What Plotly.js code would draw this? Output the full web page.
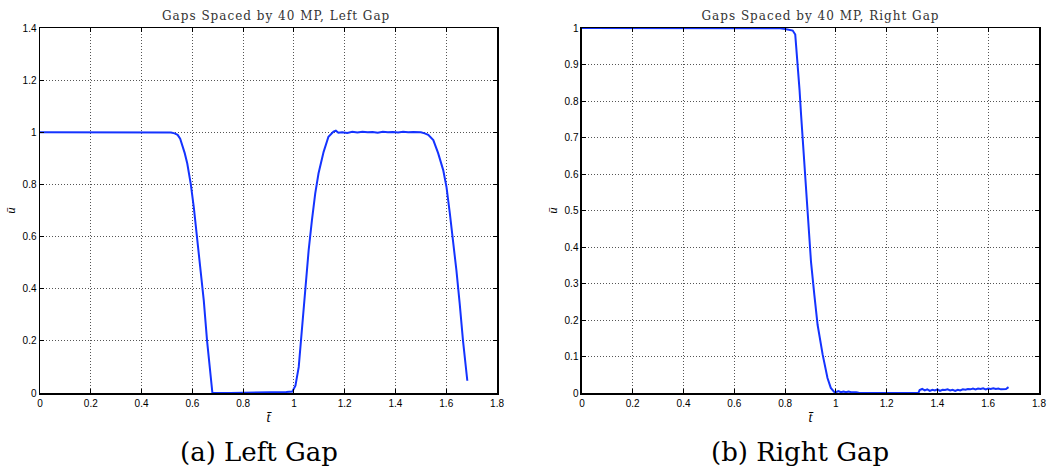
<!DOCTYPE html>
<html>
<head>
<meta charset="utf-8">
<script src="https://cdn.plot.ly/plotly-3.0.1.min.js"></script>
<style>
html,body{margin:0;padding:0;background:#fff;}
#chart{width:1059px;height:471px;}
g.annotation[data-index="0"] text, g.annotation[data-index="1"] text {letter-spacing: 1px;}
</style>
</head>
<body>
<div id="chart"></div>
<script>
// ---- Data ----
const leftTitle = "Gaps Spaced by 40 MP, Left Gap";
const rightTitle = "Gaps Spaced by 40 MP, Right Gap";
const leftCaption = "(a) Left Gap";
const rightCaption = "(b) Right Gap";

const leftT = [0, 0.1, 0.2, 0.3, 0.4, 0.5, 0.516, 0.53, 0.542, 0.552, 0.561, 0.57, 0.58, 0.594, 0.606, 0.619, 0.632, 0.645, 0.658, 0.671, 0.679,
  0.75, 0.85, 0.93, 0.97, 0.994, 1.006, 1.019, 1.032, 1.045, 1.058, 1.071, 1.084, 1.097, 1.117, 1.136, 1.156, 1.165, 1.175,
  1.19, 1.21, 1.23, 1.25, 1.27, 1.29, 1.31, 1.33, 1.35, 1.37, 1.39, 1.41, 1.43, 1.45, 1.47, 1.49, 1.5,
  1.515, 1.529, 1.549, 1.568, 1.588, 1.601, 1.614, 1.627, 1.64, 1.653, 1.666, 1.683];
const leftU = [1, 1, 1, 1, 1, 1, 0.999, 0.996, 0.99, 0.975, 0.95, 0.92, 0.88, 0.80, 0.71, 0.6, 0.48, 0.355, 0.2, 0.06, 0,
  0, 0.001, 0.002, 0.004, 0.006, 0.028, 0.1, 0.25, 0.405, 0.547, 0.663, 0.766, 0.843, 0.925, 0.983, 1.003, 1.006, 0.998,
  1.0, 0.997, 1.002, 0.999, 1.002, 1.0, 1.001, 0.998, 1.002, 1.0, 1.001, 0.999, 1.002, 1.0, 1.001, 1.0, 1.0,
  0.996, 0.99, 0.97, 0.92, 0.855, 0.79, 0.69, 0.585, 0.47, 0.342, 0.2, 0.047];

const rightT = [0, 0.2, 0.4, 0.6, 0.7, 0.78, 0.8, 0.817, 0.83, 0.84, 0.846, 0.852, 0.857, 0.863, 0.872, 0.882, 0.893, 0.902, 0.915, 0.928, 0.948, 0.967, 0.98, 0.993,
  1.0, 1.01, 1.02, 1.03, 1.04, 1.05, 1.06, 1.07, 1.08, 1.09, 1.1, 1.12, 1.2, 1.3, 1.325,
  1.33, 1.34, 1.35, 1.36, 1.37, 1.38, 1.39, 1.40, 1.41, 1.42, 1.43, 1.44, 1.45, 1.46, 1.47, 1.48, 1.49, 1.50,
  1.51, 1.52, 1.53, 1.54, 1.55, 1.56, 1.57, 1.58, 1.59, 1.60, 1.61, 1.62, 1.63, 1.64, 1.65, 1.66, 1.67, 1.68];
const rightU = [1, 1, 1, 1, 1, 0.999, 0.997, 0.995, 0.993, 0.982, 0.936, 0.89, 0.83, 0.762, 0.67, 0.56, 0.452, 0.36, 0.27, 0.187, 0.105, 0.041, 0.014, 0.003,
  0.002, 0.005, 0.002, 0.004, 0.002, 0.004, 0.002, 0.003, 0.002, 0.001, 0.001, 0, 0, 0, 0,
  0.008, 0.011, 0.007, 0.010, 0.006, 0.009, 0.007, 0.010, 0.006, 0.009, 0.008, 0.010, 0.007, 0.009, 0.006, 0.009, 0.007, 0.010,
  0.009, 0.011, 0.010, 0.012, 0.010, 0.012, 0.011, 0.013, 0.010, 0.012, 0.011, 0.013, 0.011, 0.012, 0.010, 0.011, 0.011, 0.016];

const xTicks = [0, 0.2, 0.4, 0.6, 0.8, 1, 1.2, 1.4, 1.6, 1.8];
const xTickText = ["0", "0.2", "0.4", "0.6", "0.8", "1", "1.2", "1.4", "1.6", "1.8"];
const leftYTicks = [0, 0.2, 0.4, 0.6, 0.8, 1, 1.2, 1.4];
const leftYTickText = ["0", "0.2", "0.4", "0.6", "0.8", "1", "1.2", "1.4"];
const rightYTicks = [0, 0.1, 0.2, 0.3, 0.4, 0.5, 0.6, 0.7, 0.8, 0.9, 1];
const rightYTickText = ["0", "0.1", "0.2", "0.3", "0.4", "0.5", "0.6", "0.7", "0.8", "0.9", "1"];

// ---- Styling ----
const lineColor = "#1433ff";
const tickFont = {family: "Liberation Sans, Arial, sans-serif", size: 10, color: "#000"};
const serif = "DejaVu Serif, Liberation Serif, serif";
const gridDash = "1px,2px";

function xaxisDef(domain, anchor) {
  return {
    domain: domain, anchor: anchor, range: [0, 1.8],
    tickmode: "array", tickvals: xTicks, ticktext: xTickText,
    ticks: "inside", ticklen: 4, tickcolor: "#000", tickwidth: 1,
    showline: true, linecolor: "#000", linewidth: 1.5, mirror: "ticks",
    showgrid: true, gridcolor: "#555", gridwidth: 1, griddash: gridDash,
    zeroline: false, tickfont: tickFont,
    title: {text: "<i>t\u0304</i>", font: {family: "Liberation Serif, serif", size: 14, color: "#000"}, standoff: 4}
  };
}
function yaxisDef(anchor, range, tv, tt) {
  return {
    anchor: anchor, domain: [0, 1], range: range,
    tickmode: "array", tickvals: tv, ticktext: tt,
    ticks: "inside", ticklen: 4, tickcolor: "#000", tickwidth: 1,
    showline: true, linecolor: "#000", linewidth: 1.5, mirror: "ticks",
    showgrid: true, gridcolor: "#555", gridwidth: 1, griddash: gridDash,
    zeroline: false, tickfont: tickFont,
    title: {text: "<i>u\u0304</i>", font: {family: "Liberation Serif, serif", size: 13, color: "#000"}, standoff: 4}
  };
}

const traces = [
  {x: leftT, y: leftU, xaxis: "x", yaxis: "y", mode: "lines", line: {color: lineColor, width: 2}, showlegend: false},
  {x: rightT, y: rightU, xaxis: "x2", yaxis: "y2", mode: "lines", line: {color: lineColor, width: 2}, showlegend: false}
];

const d1 = [0, 0.4575], d2 = [0.5425, 1];
const layout = {
  width: 1059, height: 471,
  margin: {l: 40, r: 20, t: 28, b: 78},
  paper_bgcolor: "#fff", plot_bgcolor: "#fff",
  xaxis: xaxisDef(d1, "y"),
  yaxis: yaxisDef("x", [0, 1.4], leftYTicks, leftYTickText),
  xaxis2: xaxisDef(d2, "y2"),
  yaxis2: yaxisDef("x2", [0, 1], rightYTicks, rightYTickText),
  annotations: [
    {text: leftTitle, xref: "paper", yref: "paper", x: (d1[0] + d1[1]) / 2, xshift: 8, y: 1, yshift: 3, xanchor: "center", yanchor: "bottom", showarrow: false, font: {family: serif, size: 12, color: "#333"}},
    {text: rightTitle, xref: "paper", yref: "paper", x: (d2[0] + d2[1]) / 2, xshift: 10, y: 1, yshift: 3, xanchor: "center", yanchor: "bottom", showarrow: false, font: {family: serif, size: 12, color: "#333"}},
    {text: leftCaption, xref: "paper", yref: "paper", x: (d1[0] + d1[1]) / 2, xshift: -10, y: 0, yshift: -42, xanchor: "center", yanchor: "top", showarrow: false, font: {family: serif, size: 26, color: "#000"}},
    {text: rightCaption, xref: "paper", yref: "paper", x: (d2[0] + d2[1]) / 2, xshift: -10, y: 0, yshift: -42, xanchor: "center", yanchor: "top", showarrow: false, font: {family: serif, size: 26, color: "#000"}}
  ]
};

Plotly.newPlot("chart", traces, layout, {displayModeBar: false, staticPlot: true});
</script>
</body>
</html>
